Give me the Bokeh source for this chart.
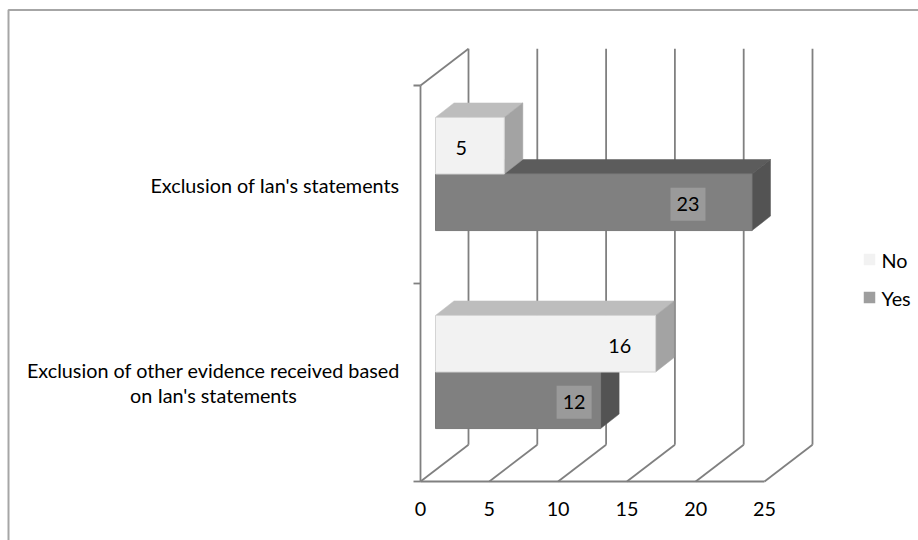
from bokeh.plotting import figure
from bokeh.models import Range1d, ColumnDataSource
from bokeh.core.properties import value
from bokeh.embed import file_html
from bokeh.resources import INLINE

# ---- data -------------------------------------------------------------
# categories listed bottom to top
categories = [
    "Exclusion of other evidence received based\non Ian's statements",
    "Exclusion of Ian's statements",
]
no_values = [16, 5]
yes_values = [12, 23]
series_names = ["No", "Yes"]
x_ticks = [0, 5, 10, 15, 20, 25]

# ---- layout / projection ---------------------------------------------
W, H = 918, 540
X0 = 420.0          # pixel column of value 0 on the front plane
PX_PER_UNIT = 13.76 # pixels per value unit
Y0 = 481.0          # pixel row of the front floor edge
BAND = 198.0        # pixels per category band

WALL = (48.0, 36.7)       # depth of the back wall (right, up) in px
BAR_FRONT = (15.0, 10.5)  # offset of bar front faces from the front plane
BAR_DEPTH = (18.5, 14.5)  # depth of a bar
BAR_H = 1 / 3.5           # bar thickness in band units (gap width 150%)
GAP = 0.75 / 3.5

FONT = value("Lato")
FS = "19.8px"
GRID = "#808080"


def ux(px):
    return (px - X0) / PX_PER_UNIT


def uy(py):
    return (Y0 - py) / BAND


def ddx(px):
    return px / PX_PER_UNIT


def ddy(py):
    return py / BAND


p = figure(
    width=W, height=H,
    x_range=Range1d(ux(0), ux(W)), y_range=Range1d(uy(H), uy(0)),
    output_backend="svg", toolbar_location=None, min_border=0,
    x_axis_location=None, y_axis_location=None,
)
p.grid.visible = False
p.outline_line_color = None
p.background_fill_color = "white"
p.border_fill_color = "white"

n_cat = len(categories)
wx, wy = ddx(WALL[0]), ddy(WALL[1])
top = float(n_cat)

# chart-area border
p.line([ux(8), ux(8), ux(W + 10)], [uy(H + 10), uy(9.5), uy(9.5)],
       line_color="#a6a6a6", line_width=2)

# back-wall gridlines, floor diagonals, side wall and front floor edge
xs, ys = [], []
for t in x_ticks:
    xs.append([t + wx, t + wx]); ys.append([wy, top + wy])
    xs.append([t, t + wx]); ys.append([0, wy])
xs.append([0, 0]); ys.append([0, top])
xs.append([0, wx]); ys.append([top, top + wy])
xs.append([x_ticks[0], x_ticks[-1]]); ys.append([0, 0])
for k in range(n_cat + 1):
    xs.append([ux(X0 - 7), 0]); ys.append([k, k])
p.multi_line(xs, ys, line_color=GRID, line_width=1.8)

fx, fy = ddx(BAR_FRONT[0]), ddy(BAR_FRONT[1])
bx, by = ddx(BAR_DEPTH[0]), ddy(BAR_DEPTH[1])


def bar_faces(values, offset):
    front = dict(l=[], r=[], b=[], t=[])
    tops = dict(xs=[], ys=[])
    sides = dict(xs=[], ys=[])
    for i, v in enumerate(values):
        y0 = i + offset + fy
        y1 = y0 + BAR_H
        x0, x1 = fx, v + fx
        front["l"].append(x0); front["r"].append(x1)
        front["b"].append(y0); front["t"].append(y1)
        tops["xs"].append([x0, x1, x1 + bx, x0 + bx])
        tops["ys"].append([y1, y1, y1 + by, y1 + by])
        sides["xs"].append([x1, x1 + bx, x1 + bx, x1])
        sides["ys"].append([y0, y0 + by, y1 + by, y1])
    return front, tops, sides


styles = {
    "Yes": dict(front="#808080", top="#5c5c5c", side="#535353", edge="#7a7a7a"),
    "No": dict(front="#f2f2f2", top="#bdbdbd", side="#a3a3a3", edge="#d4d4d4"),
}

# Yes bars sit below No bars in each band; draw them first so No overlaps
for name, vals, off in (("Yes", yes_values, GAP), ("No", no_values, GAP + BAR_H)):
    st = styles[name]
    front, tops, sides = bar_faces(vals, off)
    p.patches(tops["xs"], tops["ys"], fill_color=st["top"], line_color=st["top"], line_width=0.5)
    p.patches(sides["xs"], sides["ys"], fill_color=st["side"], line_color=st["side"], line_width=0.5)
    p.quad(left=front["l"], right=front["r"], bottom=front["b"], top=front["t"],
           fill_color=st["front"], line_color=st["edge"], line_width=1)

# value labels
NO_INSET_PX = [36, 43]
YES_INSET_PX = [26.5, 64]
no_lab = ColumnDataSource(dict(
    x=[v + fx - ddx(d) for v, d in zip(no_values, NO_INSET_PX)],
    y=[i + GAP + 1.5 * BAR_H + fy - ddy(2) for i in range(n_cat)],
    t=[str(v) for v in no_values]))
yes_lab = ColumnDataSource(dict(
    x=[v + fx - ddx(d) for v, d in zip(yes_values, YES_INSET_PX)],
    y=[i + GAP + 0.5 * BAR_H + fy - ddy(2) for i in range(n_cat)],
    t=[str(v) for v in yes_values]))
p.rect(x="x", y="y", width=35, height=33, width_units="screen", height_units="screen",
       source=yes_lab, fill_color="#9a9a9a", line_color=None)
for src in (no_lab, yes_lab):
    p.text(x="x", y="y", text="t", source=src, text_font=FONT, text_font_size=FS,
           text_align="center", text_baseline="middle", text_color="#000000")

# x tick labels
p.text(x=x_ticks, y=[uy(508)] * len(x_ticks), text=[str(t) for t in x_ticks],
       text_font=FONT, text_font_size=FS, text_align="center", text_baseline="middle",
       text_color="#000000")

# category labels: block right-aligned to the axis, lines centred in the block
LABEL_RIGHT_PX = 399
LINE_GAP_PX = 25
LABEL_CENTER_PX = [213, None]
for i, cat in enumerate(categories):
    lines = cat.split("\n")
    n = len(lines)
    cy = i + 0.5
    for j, ln in enumerate(lines):
        ly = cy + ddy((n - 1) / 2 * LINE_GAP_PX - j * LINE_GAP_PX)
        if n == 1:
            p.text(x=[ux(LABEL_RIGHT_PX)], y=[ly], text=[ln], text_font=FONT, text_font_size=FS,
                   text_align="right", text_baseline="middle", text_color="#000000")
        else:
            p.text(x=[ux(LABEL_CENTER_PX[i])], y=[ly], text=[ln], text_font=FONT,
                   text_font_size=FS, text_align="center", text_baseline="middle",
                   text_color="#000000")

# legend
LEG_X = 869
LEG_Y = [259, 297]
leg_colors = ["#f2f2f2", "#9e9e9e"]
p.rect(x=[ux(LEG_X)] * 2, y=[uy(v) for v in LEG_Y], width=11.5, height=11.5,
       width_units="screen", height_units="screen", fill_color=leg_colors, line_color=None)
p.text(x=[ux(LEG_X + 12)] * 2, y=[uy(v) for v in LEG_Y], text=series_names,
       text_font=FONT, text_font_size=FS, text_align="left", text_baseline="middle",
       text_color="#000000")

open("out.html", "w").write(file_html(p, INLINE))
